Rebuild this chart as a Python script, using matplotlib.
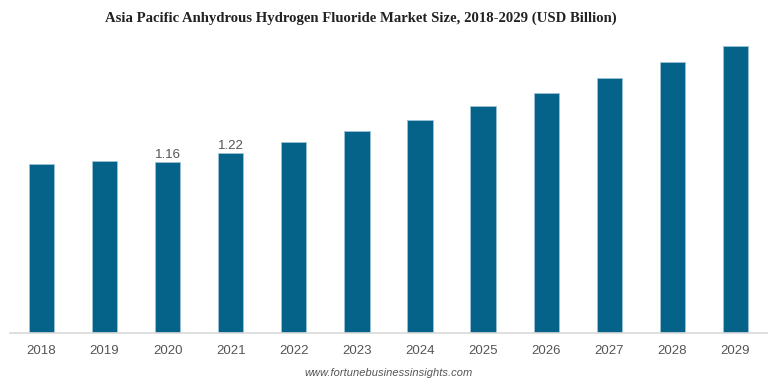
import matplotlib.pyplot as plt

years = ['2018', '2019', '2020', '2021', '2022', '2023', '2024', '2025', '2026', '2027', '2028', '2029']
market_size = [1.15, 1.17, 1.16, 1.22, 1.30, 1.37, 1.45, 1.54, 1.63, 1.73, 1.84, 1.95]
labeled_years = ['2020', '2021']

plt.rcParams['font.family'] = ['Liberation Sans', 'DejaVu Sans']

fig = plt.figure(figsize=(7.7, 3.85), dpi=100)
ax = fig.add_axes([0.013, 0.1351, 0.983, 0.8026])

x = range(len(years))
bars = ax.bar(x, market_size, width=0.4, color='#05638a', edgecolor='#9cc3d5', linewidth=0.6)

for i, (yr, v) in enumerate(zip(years, market_size)):
    if yr in labeled_years:
        ax.text(i, v + 0.008, f'{v:.2f}', ha='center', va='bottom', fontsize=9.5, color='#555555')

ax.set_xlim(-0.5, len(years) - 0.5)
ax.set_ylim(0, 2.1)
ax.set_xticks(list(x))
ax.set_xticklabels(years, fontsize=9.5, color='#555555')
ax.tick_params(axis='x', length=0, pad=9)
ax.set_yticks([])
for side in ['top', 'right', 'left']:
    ax.spines[side].set_visible(False)
ax.spines['bottom'].set_color('#d9d9d9')
ax.spines['bottom'].set_linewidth(1.2)

fig.text(0.469, 0.952, 'Asia Pacific Anhydrous Hydrogen Fluoride Market Size, 2018-2029 (USD Billion)',
         ha='center', va='center', fontsize=10.6, fontweight='bold', family='Liberation Serif', color='#222222')
fig.text(0.504, 0.031, 'www.fortunebusinessinsights.com', ha='center', va='center',
         fontsize=8, style='italic', color='#555555')

plt.savefig('out.png', dpi=100)
